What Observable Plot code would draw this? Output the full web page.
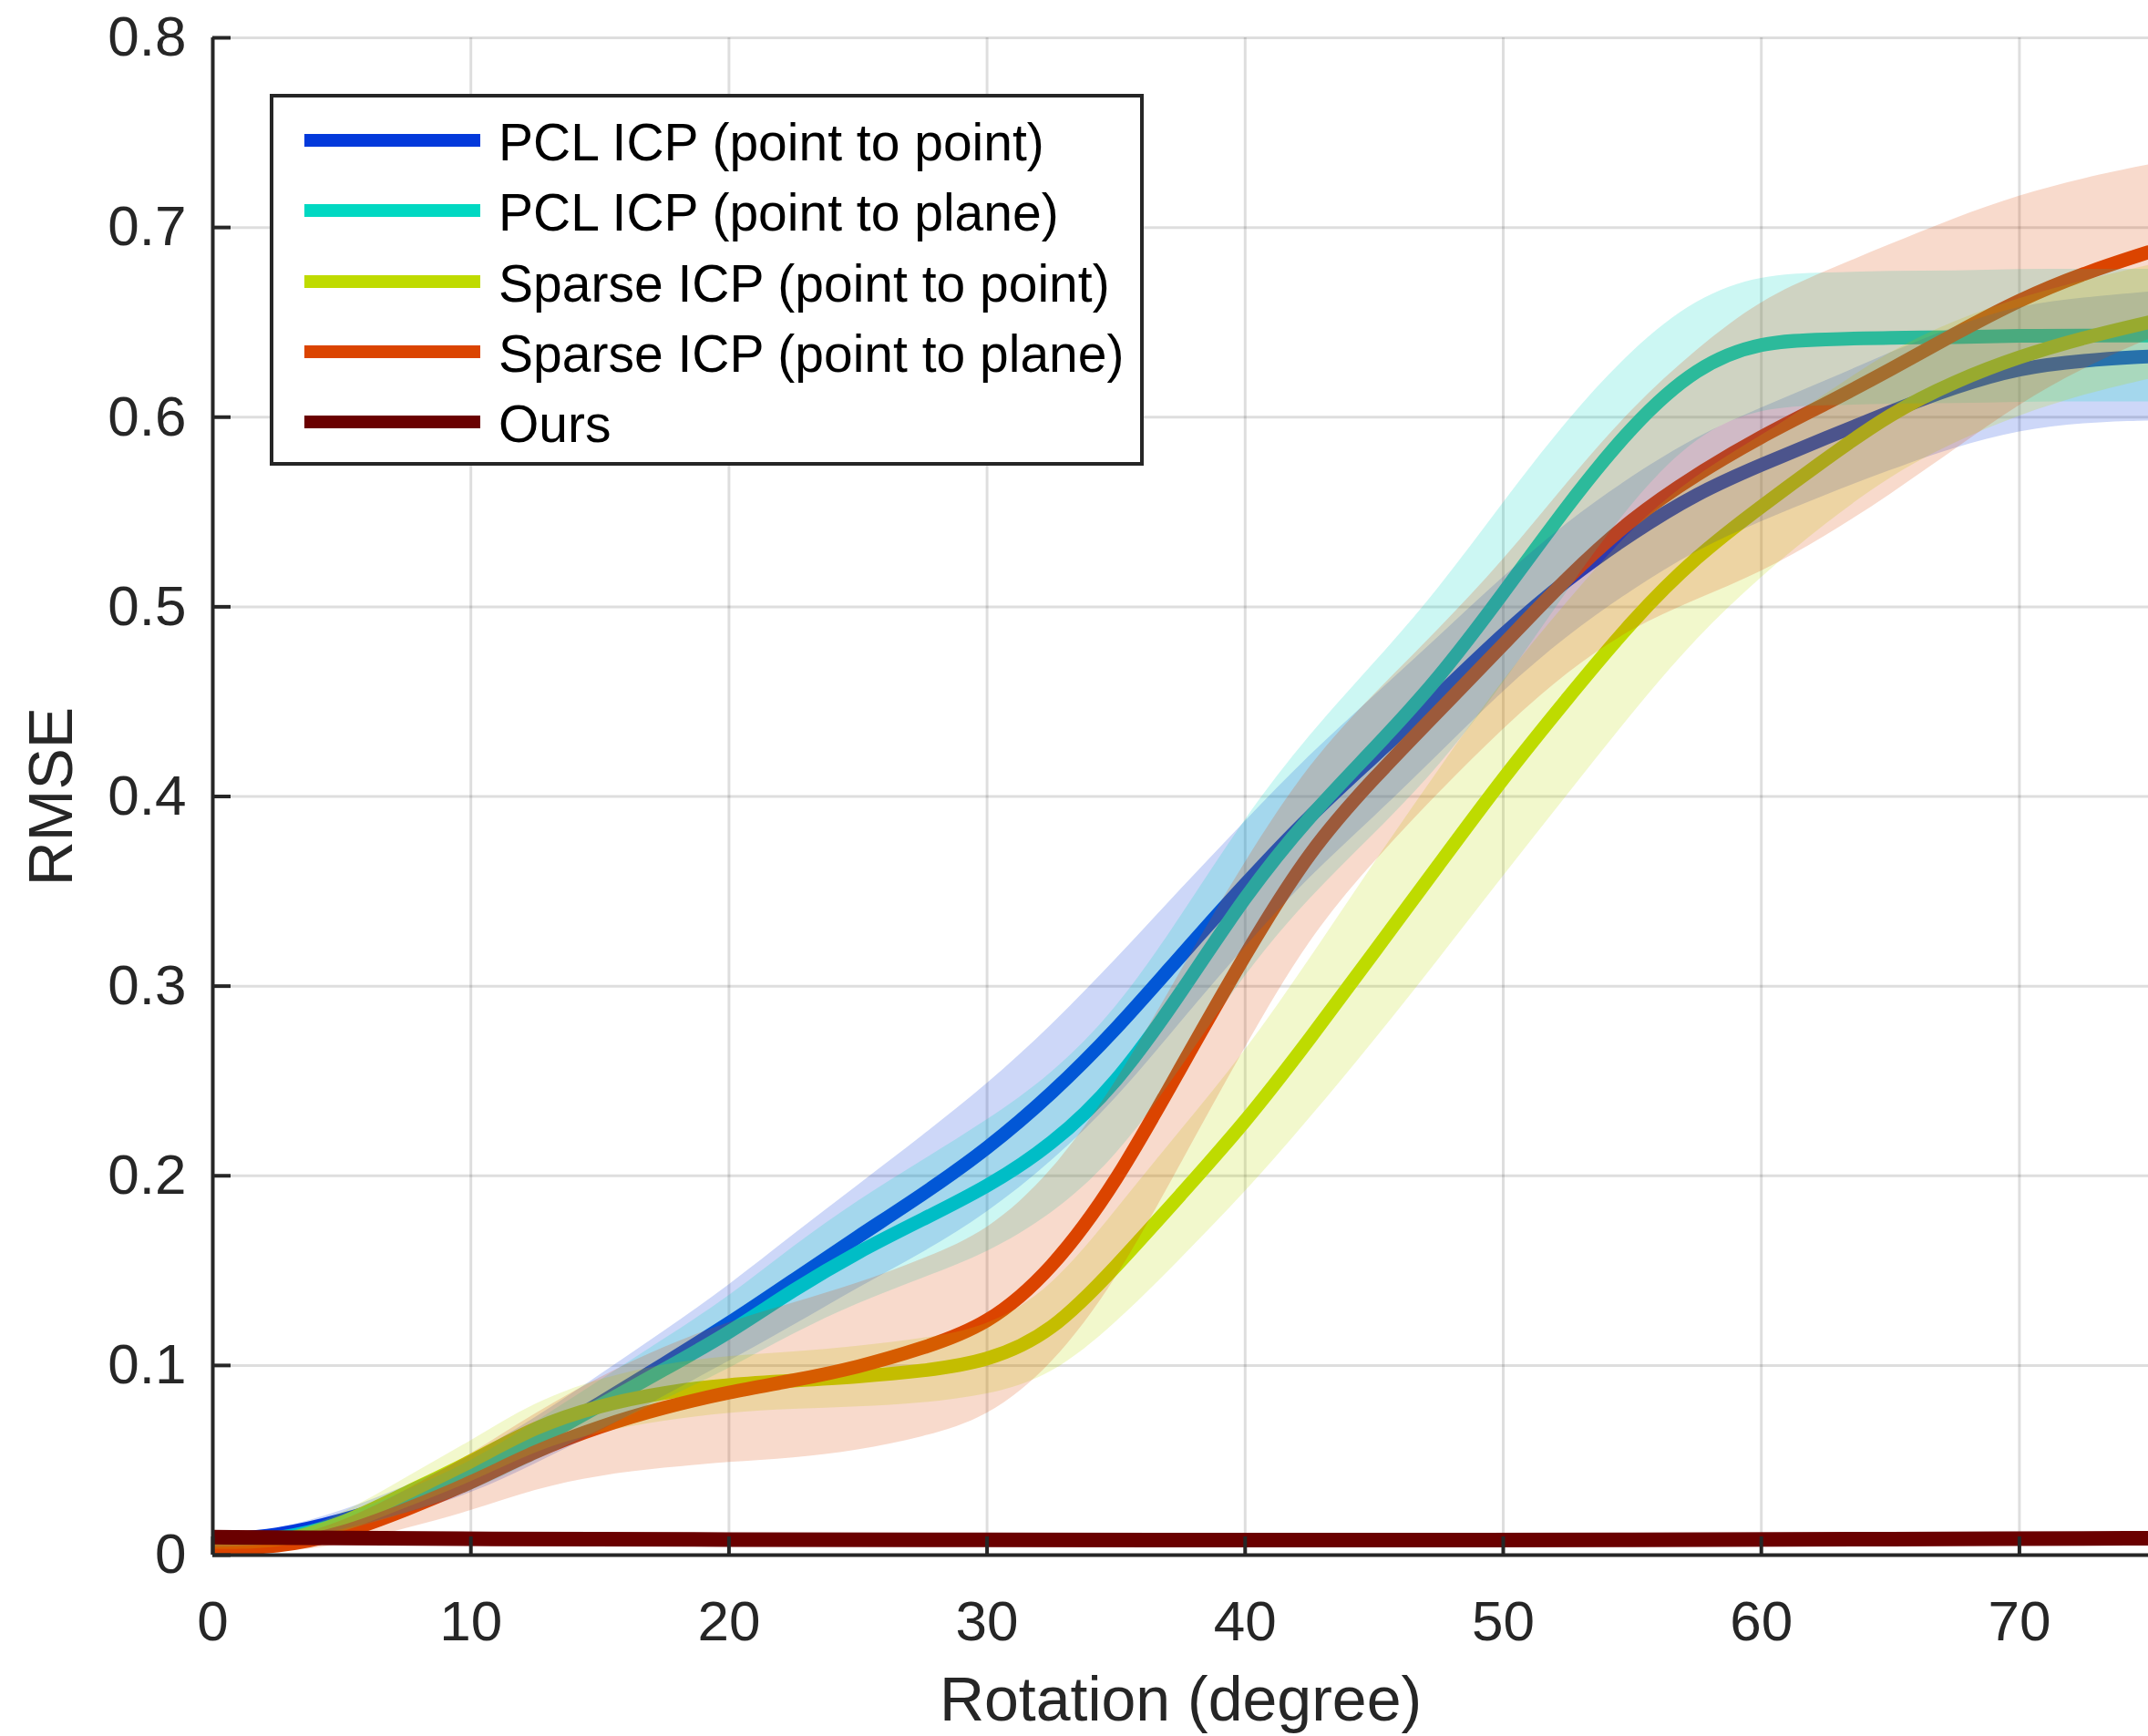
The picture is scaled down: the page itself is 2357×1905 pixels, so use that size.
<!DOCTYPE html>
<html>
<head>
<meta charset="utf-8">
<script src="https://cdn.jsdelivr.net/npm/d3@7"></script>
<script src="https://cdn.jsdelivr.net/npm/@observablehq/plot@0.6"></script>
<style>
html, body { margin: 0; padding: 0; background: #ffffff; }
#wrap { position: relative; width: 2357px; height: 1905px; overflow: hidden; font-family: "Liberation Sans", Arial, Helvetica, sans-serif; }
#legend { position: absolute; left: 296px; top: 103px; width: 959px; height: 408px; box-sizing: border-box; border: 4px solid #262626; background: #ffffff; }
.entry { position: absolute; left: 0; height: 0; }
.swatch { position: absolute; left: 34px; width: 193px; height: 14px; top: -7px; }
.label { position: absolute; left: 247px; top: -33px; font-size: 57px; line-height: 70px; color: #000; white-space: nowrap; }
</style>
</head>
<body>
<div id="wrap"><div id="legend"></div></div>
<script>
// ---------------- data ----------------
const rotation = [0,2.5,5,7.5,10,12.5,15,17.5,20,22.5,25,27.5,30,32.5,35,37.5,40,42.5,45,47.5,50,52.5,55,57.5,60,62.5,65,67.5,70,72.5,75];

const pclPointMean = [0.008,0.010,0.018,0.029,0.042,0.060,0.080,0.101,0.122,0.145,0.168,0.190,0.214,0.243,0.277,0.316,0.354,0.390,0.421,0.453,0.486,0.515,0.539,0.560,0.575,0.589,0.603,0.616,0.626,0.630,0.632];
const pclPointStd  = [0.002,0.003,0.005,0.007,0.010,0.012,0.015,0.017,0.020,0.024,0.027,0.031,0.034,0.036,0.037,0.035,0.033,0.032,0.032,0.031,0.030,0.030,0.030,0.030,0.030,0.030,0.031,0.032,0.033,0.033,0.034];

const pclPlaneMean = [0.006,0.008,0.016,0.028,0.041,0.060,0.079,0.098,0.117,0.140,0.160,0.177,0.194,0.216,0.248,0.296,0.348,0.390,0.425,0.462,0.507,0.554,0.596,0.627,0.640,0.641,0.642,0.642,0.643,0.643,0.643];
const pclPlaneStd  = [0.002,0.003,0.004,0.006,0.008,0.010,0.013,0.016,0.019,0.023,0.027,0.031,0.035,0.037,0.039,0.040,0.041,0.043,0.045,0.047,0.048,0.045,0.040,0.036,0.035,0.035,0.035,0.035,0.035,0.035,0.035];

const sparsePointMean = [0.005,0.006,0.016,0.033,0.049,0.068,0.079,0.086,0.090,0.092,0.094,0.097,0.102,0.117,0.152,0.190,0.228,0.272,0.318,0.364,0.410,0.452,0.493,0.527,0.553,0.578,0.602,0.619,0.632,0.642,0.650];
const sparsePointStd  = [0.002,0.003,0.005,0.008,0.011,0.013,0.014,0.015,0.015,0.015,0.016,0.017,0.018,0.023,0.030,0.034,0.037,0.042,0.047,0.050,0.052,0.051,0.049,0.043,0.037,0.034,0.033,0.032,0.031,0.030,0.030];

const sparsePlaneMean = [0.003,0.004,0.011,0.024,0.038,0.055,0.068,0.078,0.086,0.092,0.099,0.109,0.121,0.150,0.196,0.257,0.317,0.372,0.410,0.445,0.480,0.516,0.547,0.570,0.590,0.607,0.625,0.644,0.662,0.676,0.687];
const sparsePlaneStd  = [0.002,0.003,0.006,0.010,0.015,0.020,0.026,0.032,0.037,0.041,0.044,0.047,0.049,0.051,0.052,0.051,0.049,0.046,0.044,0.043,0.044,0.050,0.058,0.066,0.072,0.070,0.066,0.061,0.055,0.050,0.046];

const oursRotation = [0,5,10,20,30,40,50,55,60,70,75];
const oursMean = [0.0095,0.0090,0.0085,0.0082,0.0080,0.0079,0.0079,0.0080,0.0082,0.0087,0.0089];
const oursStd  = [0.0008,0.0008,0.0008,0.0008,0.0008,0.0008,0.0008,0.0008,0.0008,0.0008,0.0008];

const seriesNames  = ["PCL ICP (point to point)", "PCL ICP (point to plane)", "Sparse ICP (point to point)", "Sparse ICP (point to plane)", "Ours"];
const seriesColors = ["#0339DB", "#00D8C2", "#BFDB00", "#DB4400", "#6A0000"];

const xTicks = [0,10,20,30,40,50,60,70];
const xTickLabels = ["0","10","20","30","40","50","60","70"];
const yTicks = [0,0.1,0.2,0.3,0.4,0.5,0.6,0.7,0.8];
const yTickLabels = ["0","0.1","0.2","0.3","0.4","0.5","0.6","0.7","0.8"];
const xDomain = [0, 75];
const yDomain = [0, 0.8];
const xLabel = "Rotation (degree)";
const yLabel = "RMSE";

// ---------------- build tables ----------------
function rows(xs, means, stds) {
  return xs.map((x, i) => ({x, mean: means[i], sd: stds[i]}));
}
const tables = [
  rows(rotation, pclPointMean, pclPointStd),
  rows(rotation, pclPlaneMean, pclPlaneStd),
  rows(rotation, sparsePointMean, sparsePointStd),
  rows(rotation, sparsePlaneMean, sparsePlaneStd),
  rows(oursRotation, oursMean, oursStd)
];

// ---------------- layout ----------------
const W = 2357, H = 1905;
const mL = 233, mR = 0, mT = 41, mB = 199;
const plotW = W - mL - mR, plotH = H - mT - mB;
const axisColor = "#262626";
const curve = "basis";

const lineMarks = tables.slice(0, 4).map((t, i) =>
  Plot.line(t, {x: "x", y: "mean", stroke: seriesColors[i], strokeWidth: 15, curve, clip: true}));
const bandMarks = tables.slice(0, 4).map((t, i) =>
  Plot.areaY(t, {x: "x", y1: d => d.mean - d.sd, y2: d => d.mean + d.sd, fill: seriesColors[i], fillOpacity: 0.2, curve, clip: true}));

const chart = Plot.plot({
  width: W, height: H,
  marginLeft: mL, marginRight: mR, marginTop: mT, marginBottom: mB,
  x: {domain: xDomain, label: null},
  y: {domain: yDomain, label: null},
  style: {fontFamily: '"Liberation Sans", Arial, Helvetica, sans-serif', color: axisColor, background: "#ffffff", overflow: "visible"},
  marks: [
    Plot.gridX(xTicks, {stroke: "#000", strokeOpacity: 0.13, strokeWidth: 3}),
    Plot.gridY(yTicks, {stroke: "#000", strokeOpacity: 0.13, strokeWidth: 3}),
    ...lineMarks,
    ...bandMarks,
    Plot.areaY(tables[4], {x: "x", y1: d => d.mean - d.sd, y2: d => d.mean + d.sd, fill: seriesColors[4], fillOpacity: 0.2, curve, clip: true}),
    Plot.line(tables[4], {x: "x", y: "mean", stroke: seriesColors[4], strokeWidth: 16, curve, clip: true}),
    // inward ticks
    Plot.ruleX(xTicks, {x: d => d, insetTop: plotH - 20, stroke: axisColor, strokeWidth: 4}),
    Plot.ruleY(yTicks, {y: d => d, insetRight: plotW - 20, stroke: axisColor, strokeWidth: 4}),
    // axis lines
    Plot.ruleX([xDomain[0]], {stroke: axisColor, strokeWidth: 4}),
    Plot.ruleY([yDomain[0]], {stroke: axisColor, strokeWidth: 4}),
    Plot.axisX(xTicks, {tickSize: 0, tickPadding: 49, fontSize: 62, tickFormat: d => xTickLabels[xTicks.indexOf(d)], label: null}),
    Plot.axisY(yTicks, {tickSize: 0, tickPadding: 29, fontSize: 62, tickFormat: d => yTickLabels[yTicks.indexOf(d)], label: null}),
    Plot.text([xLabel], {text: d => d, frameAnchor: "bottom", dy: 160, fontSize: 68, lineAnchor: "middle", textAnchor: "middle", fill: axisColor}),
    Plot.text([yLabel], {text: d => d, frameAnchor: "left", dx: -176, rotate: -90, fontSize: 68, lineAnchor: "middle", textAnchor: "middle", fill: axisColor})
  ]
});

const wrap = document.getElementById("wrap");
wrap.insertBefore(chart, wrap.firstChild);

// ---------------- legend ----------------
const legend = document.getElementById("legend");
const entryTops = [47, 124, 202, 279, 356];
seriesNames.forEach((name, i) => {
  const e = document.createElement("div");
  e.className = "entry";
  e.style.top = entryTops[i] + "px";
  const sw = document.createElement("div");
  sw.className = "swatch";
  sw.style.background = seriesColors[i];
  const lb = document.createElement("div");
  lb.className = "label";
  lb.textContent = name;
  e.appendChild(sw); e.appendChild(lb);
  legend.appendChild(e);
});
</script>
</body>
</html>
